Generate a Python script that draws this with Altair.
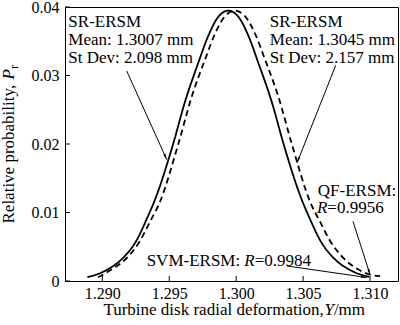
import altair as alt
import pandas as pd

# ---- data ----
solid_x = [1.28888, 1.29030, 1.29149, 1.29254, 1.29336, 1.29396, 1.29523, 1.29620, 1.29717,
           1.29792, 1.29867, 1.29941, 1.30016, 1.30091, 1.30165, 1.30263, 1.30360, 1.30487,
           1.30547, 1.30629, 1.30733, 1.30853, 1.30995]
solid_y = [0.00055, 0.00158, 0.00326, 0.00588, 0.00924, 0.01201, 0.01961, 0.02632, 0.03187,
           0.03581, 0.03858, 0.03946, 0.03858, 0.03581, 0.03187, 0.02632, 0.01961, 0.01201,
           0.00924, 0.00588, 0.00326, 0.00158, 0.00060]
dashed_x = [1.28968, 1.29072, 1.29185, 1.29282, 1.29356, 1.29431, 1.29566, 1.29670, 1.29767,
            1.29842, 1.29917, 1.29991, 1.30066, 1.30141, 1.30216, 1.30313, 1.30417, 1.30552,
            1.30626, 1.30701, 1.30798, 1.30910, 1.31000, 1.31075]
dashed_y = [0.00055, 0.00172, 0.00340, 0.00588, 0.00866, 0.01158, 0.01990, 0.02705, 0.03231,
            0.03610, 0.03866, 0.03946, 0.03866, 0.03610, 0.03231, 0.02705, 0.01990, 0.01158,
            0.00866, 0.00588, 0.00340, 0.00172, 0.00092, 0.00070]
series_names = ["SR-ERSM (1.3007)", "SR-ERSM (1.3045)"]

x_ticks = [1.290, 1.295, 1.300, 1.305, 1.310]
y_ticks = [0, 0.01, 0.02, 0.03, 0.04]

# annotation texts (normal style)
ann_text = ["SR-ERSM", "Mean: 1.3007 mm", "St Dev: 2.098 mm",
            "SR-ERSM", "Mean: 1.3045 mm", "St Dev: 2.157 mm",
            "QF-ERSM:", "=0.9956", "SVM-ERSM: ", "=0.9984"]
ann_x = [1.28746, 1.28746, 1.28746, 1.30251, 1.30251, 1.30251, 1.30610, 1.30681, 1.29331, 1.30138]
ann_y = [0.03701, 0.03441, 0.03182, 0.03701, 0.03441, 0.03182, 0.01241, 0.00993, 0.00219, 0.00219]
# italic R labels
ital_text = ["R", "R"]
ital_x = [1.30603, 1.30061]
ital_y = [0.00993, 0.00219]
# arrows: start -> end (data coords) and head angle
arr_x = [1.29182, 1.30744, 1.30873, 1.30378]
arr_y = [0.03067, 0.03150, 0.00869, 0.00220]
arr_x2 = [1.29481, 1.30455, 1.31001, 1.30975]
arr_y2 = [0.01773, 0.01725, 0.00088, 0.00051]
arr_angle = [335.7, 21.7, 342.6, 278.1]

W, H = 333, 274
FONT = "Liberation Serif"

xs = alt.Scale(domain=[1.28721, 1.31209], nice=False, zero=False)
ys = alt.Scale(domain=[0, 0.04], nice=False)

curves = pd.DataFrame({
    "x": solid_x + dashed_x,
    "p": solid_y + dashed_y,
    "series": [series_names[0]] * len(solid_x) + [series_names[1]] * len(dashed_x),
})

lines = alt.Chart(curves).mark_line(color="black", strokeWidth=1.8, interpolate="monotone").encode(
    x=alt.X("x:Q", scale=xs, title=None,
            axis=alt.Axis(values=x_ticks, format=".3f", title=None, labelPadding=4, tickSize=0)),
    y=alt.Y("p:Q", scale=ys, title=None,
            axis=alt.Axis(values=y_ticks, title=None, labelPadding=6, tickSize=0,
                          labelExpr="datum.value == 0 ? '0' : format(datum.value, '.2f')")),
    strokeDash=alt.StrokeDash("series:N", scale=alt.Scale(domain=series_names, range=[[1, 0], [6, 4]]),
                              legend=None),
)

xt = alt.Chart(pd.DataFrame({"x": x_ticks})).mark_rule(color="black", strokeWidth=1).encode(
    x=alt.X("x:Q", scale=xs, title=None), y=alt.value(H), y2=alt.value(H - 5))
yt = alt.Chart(pd.DataFrame({"p": y_ticks})).mark_rule(color="black", strokeWidth=1).encode(
    y=alt.Y("p:Q", scale=ys, title=None), x=alt.value(0), x2=alt.value(5))

ann = alt.Chart(pd.DataFrame({"x": ann_x, "p": ann_y, "t": ann_text})).mark_text(
    font=FONT, fontSize=17, align="left", baseline="alphabetic", color="black").encode(
    x=alt.X("x:Q", scale=xs, title=None), y=alt.Y("p:Q", scale=ys, title=None), text="t:N")
ital = alt.Chart(pd.DataFrame({"x": ital_x, "p": ital_y, "t": ital_text})).mark_text(
    font=FONT, fontSize=17, fontStyle="italic", align="left", baseline="alphabetic", color="black").encode(
    x=alt.X("x:Q", scale=xs, title=None), y=alt.Y("p:Q", scale=ys, title=None), text="t:N")

arr_df = pd.DataFrame({"x": arr_x, "p": arr_y, "x2": arr_x2, "p2": arr_y2, "a": arr_angle})
arrows = alt.Chart(arr_df).mark_rule(color="black", strokeWidth=1).encode(
    x=alt.X("x:Q", scale=xs, title=None), y=alt.Y("p:Q", scale=ys, title=None), x2="x2:Q", y2="p2:Q")
heads = alt.Chart(arr_df).transform_calculate(hx="datum.x2", hp="datum.p2").mark_point(
    shape="M0,0 L-0.3,-1.5 L0.3,-1.5 Z", filled=True, color="black", size=60, opacity=1).encode(
    x=alt.X("hx:Q", scale=xs, title=None), y=alt.Y("hp:Q", scale=ys, title=None),
    angle=alt.Angle("a:Q", scale=None))

# axis titles with italic parts
def txt(t, px, py, size=17, style="normal", angle=0):
    return alt.Chart(pd.DataFrame({"t": [t]})).mark_text(
        font=FONT, fontSize=size, fontStyle=style, angle=angle, align="left",
        baseline="alphabetic", color="black").encode(
        x=alt.value(px), y=alt.value(py), text="t:N")

xtitle = [txt("Turbine disk radial deformation,", 38.4, 308),
          txt("Y", 259.4, 308, style="italic"),
          txt("/mm", 268.9, 308)]
ytitle = [txt("Relative probability, ", -51, 216.5, angle=270),
          txt("P", -51, 72.5, style="italic", angle=270),
          txt("r", -47, 62.1, size=12, angle=270)]

chart = alt.layer(lines, xt, yt, ann, ital, arrows, heads, *xtitle, *ytitle).properties(
    width=W, height=H,
    autosize=alt.AutoSizeParams(type="none"),
    padding={"left": 65, "top": 7, "right": 2, "bottom": 44},
    background="white",
).configure_view(stroke="black", strokeWidth=1).configure_axis(
    labelFont=FONT, labelFontSize=16, labelColor="black", domain=False, ticks=False, grid=False,
)

chart.save("out.html", embed_options={"renderer": "svg", "actions": False})
